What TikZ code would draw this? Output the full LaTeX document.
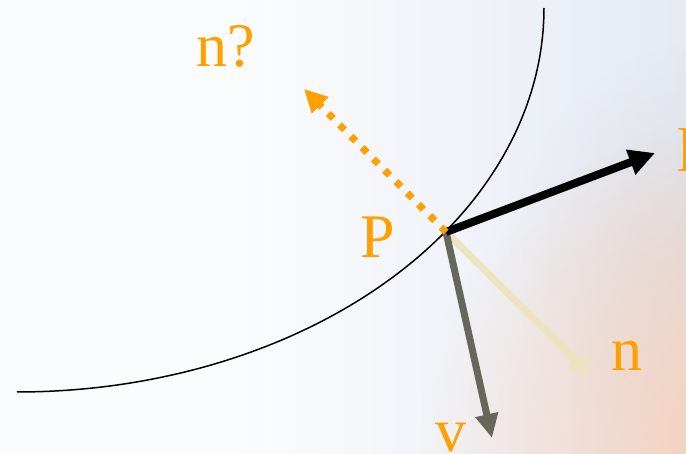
\documentclass[tikz,border=0pt]{standalone}
\usepackage{fontspec}
\setmainfont{Liberation Serif}
\usetikzlibrary{arrows.meta,fadings}
\tikzfading[name=softglow, inner color=transparent!0, outer color=transparent!100]
\definecolor{lbl}{RGB}{255,160,0}
\definecolor{vgray}{RGB}{102,102,90}
\definecolor{nbeige}{RGB}{236,227,193}
\definecolor{bgL}{RGB}{251,252,254}
\definecolor{bgR}{RGB}{229,234,243}
\definecolor{peach}{RGB}{247,208,186}
\definecolor{greyband}{RGB}{214,206,204}
\tikzset{
  lab/.style={text=lbl, anchor=base west, inner sep=0pt, font=\fontsize{62}{62}\selectfont},
  vec/.style={line width=7pt},
}
\begin{document}
\begin{tikzpicture}[x=1pt,y=-1pt]
\useasboundingbox (0,0) rectangle (686,454);
\clip (0,0) rectangle (686,454);
% background
\fill[bgL] (0,0) rectangle (686,454);
\shade[left color=bgL, right color=bgR] (230,0) rectangle (686,454);
\fill[greyband, path fading=softglow, fill opacity=0.5] (720,250) circle[radius=210];
\fill[peach, path fading=softglow] (730,440) circle[radius=310];
% curve
\draw[line width=1.5pt] plot[domain=0:90, samples=100] ({17+527*cos(\x)},{8+384*sin(\x)});
\coordinate (P) at (446,232);
\coordinate (Ltip) at (655,153);
\coordinate (Qtip) at (304,89);
\coordinate (Vtip) at (492,438);
\coordinate (Ntip) at (591,375);
% vectors
\draw[vec, nbeige, -{Triangle[length=22pt,width=21pt]}] (P) -- (Ntip);
\draw[vec, vgray, -{Triangle[length=24pt,width=22pt]}] (P) -- (Vtip);
\draw[vec, line width=8pt, black, -{Triangle[length=26pt,width=25pt]}] (P) -- (Ltip);
\draw[line width=7pt, lbl, dash pattern=on 7pt off 9pt, -{Triangle[length=23pt,width=22pt]}] (P) -- (Qtip);
% labels
\node[lab] (lq) at (196,67) {n?};
\node[lab] (lp) at (360,258) {P};
\node[lab] (ln) at (611,371) {n};
\node[lab] (lv) at (435,451) {v};
\node[lab] (ll) at (677,172) {l};
\end{tikzpicture}
\end{document}
